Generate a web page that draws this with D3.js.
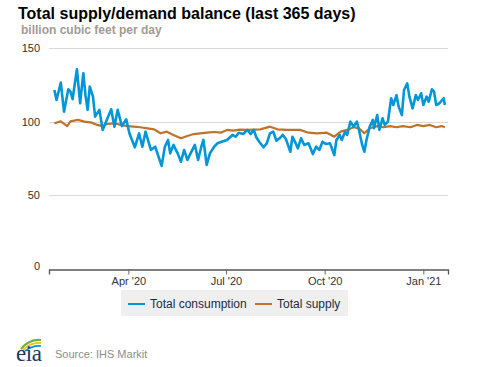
<!DOCTYPE html>
<meta charset="utf-8">
<style>
body {
    margin: 0;
    background: #fff;
    font-family: "Liberation Sans", Arial, Helvetica, sans-serif;
}
.grid line {
    stroke: #d9d9d9;
    shape-rendering: crispEdges;
}
.axis text {
    font-size: 11px;
    fill: #333;
}
</style>
<body>
<script src="https://cdn.jsdelivr.net/npm/d3@7"></script>
<script>

// daily balance, billion cubic feet per day
var consDates = ["2020-01-23","2020-01-25","2020-01-29","2020-02-01","2020-02-05","2020-02-07","2020-02-09","2020-02-13",
    "2020-02-16","2020-02-19","2020-02-21","2020-02-23","2020-02-25","2020-02-28","2020-03-01","2020-03-05","2020-03-08",
    "2020-03-16","2020-03-19","2020-03-22","2020-03-26","2020-03-30","2020-04-02","2020-04-07","2020-04-11","2020-04-14",
    "2020-04-17","2020-04-22","2020-04-26","2020-05-02","2020-05-05","2020-05-08","2020-05-10","2020-05-13","2020-05-17",
    "2020-05-20","2020-05-23","2020-05-26","2020-05-29","2020-06-02","2020-06-05","2020-06-08","2020-06-10","2020-06-13",
    "2020-06-16","2020-06-20","2020-06-23","2020-06-27","2020-07-02","2020-07-07","2020-07-10","2020-07-13","2020-07-17",
    "2020-07-21","2020-07-24","2020-07-27","2020-07-29","2020-08-01","2020-08-05","2020-08-08","2020-08-11","2020-08-14",
    "2020-08-17","2020-08-20","2020-08-23","2020-08-26","2020-08-30","2020-09-01","2020-09-04","2020-09-06","2020-09-09",
    "2020-09-12","2020-09-16","2020-09-20","2020-09-23","2020-09-26","2020-09-29","2020-10-02","2020-10-06","2020-10-10",
    "2020-10-12","2020-10-15","2020-10-17","2020-10-20","2020-10-22","2020-10-25","2020-10-28","2020-10-31","2020-11-02",
    "2020-11-05","2020-11-07","2020-11-09","2020-11-12","2020-11-15","2020-11-16","2020-11-19","2020-11-21","2020-11-24",
    "2020-11-26","2020-11-29","2020-12-02","2020-12-04","2020-12-07","2020-12-09","2020-12-12","2020-12-14","2020-12-17",
    "2020-12-19","2020-12-22","2020-12-25","2020-12-27","2020-12-30","2021-01-01","2021-01-04","2021-01-06","2021-01-09",
    "2021-01-11","2021-01-13","2021-01-16","2021-01-20","2021-01-21"];
var consumption = [121.5,114.7,126.5,106.8,122,120.4,115.2,135.6,
    112.5,132.9,118,108,123.8,117,103.4,108,94.4,
    108.4,96.6,108,97,101.6,92,82.6,92,83,
    93.2,80.8,83,70,83,87.6,78.5,84.2,78.5,
    72.8,80.8,74,78.5,84.2,74,83,87.6,70.6,
    78.5,83,85.3,86.4,87.6,91,89.8,92.5,91.6,
    94.4,91.6,94.4,89.8,86.4,82.6,85.3,92,93.2,
    87.1,88.7,91,88,79.6,89.8,85.3,81.9,88.7,
    84.2,85.3,78,83,80.8,86.4,84.9,85.3,77.4,
    87.6,91,87.6,93.2,91,100,96.6,100,94.4,
    84.2,79.6,87.6,96.6,101.2,95.5,104.5,94.4,102.3,
    97.8,100,115.9,111.3,118,110.2,104.5,121.5,126,
    117,109,118,114.7,119.3,111.3,117,113.6,122,
    120.4,111.3,112.5,115.9,111.3];

var supDates = ["2020-01-23","2020-01-29","2020-02-04","2020-02-07","2020-02-14","2020-02-20","2020-02-27","2020-03-03",
    "2020-03-08","2020-03-12","2020-03-19","2020-03-25","2020-03-31","2020-04-06","2020-04-12","2020-04-19","2020-04-25",
    "2020-05-01","2020-05-07","2020-05-13","2020-05-20","2020-05-26","2020-06-01","2020-06-07","2020-06-13","2020-06-20",
    "2020-06-26","2020-07-02","2020-07-08","2020-07-14","2020-07-21","2020-08-02","2020-08-11","2020-08-18","2020-08-27",
    "2020-09-08","2020-09-16","2020-09-24","2020-10-03","2020-10-10","2020-10-16","2020-10-22","2020-10-28","2020-11-02",
    "2020-11-07","2020-11-12","2020-11-19","2020-11-25","2020-12-01","2020-12-07","2020-12-13","2020-12-20","2020-12-26",
    "2021-01-01","2021-01-07","2021-01-13","2021-01-18","2021-01-21"];
var supply = [98.9,100.2,97,100.2,101.2,100,99.3,97.8,
    97,98.4,98.9,97.8,97,96.6,96.2,95.5,94.8,
    92.1,93.2,91,88.7,90.3,91.6,92.1,92.5,93,
    92.5,94.4,93.9,94.6,94.4,94.8,96.6,94.8,94.4,
    94.4,92.5,92.1,92.5,89.8,93.2,94.4,96.2,95.5,
    92.1,95.5,97,96.2,97,96.2,97,96.2,97.8,
    97,97.8,96.2,97,96.2];

var yTicks = [0, 50, 100, 150];
var xTicks = ["2020-04-01", "2020-07-01", "2020-10-01", "2021-01-01"];
var seriesNames = ["Total consumption", "Total supply"];
var colors = ["#0096d7", "#bd732a"];

var W = 477, H = 367;
var margin = {left: 49, right: 29, top: 48, bottom: 98};
var parse = d3.timeParse("%Y-%m-%d");

var svg = d3.select("body").append("svg")
    .attr("width", W)
    .attr("height", H);

var x = d3.scaleTime()
    .domain([parse("2020-01-18"), parse("2021-01-24")])
    .range([margin.left, W - margin.right]);

var y = d3.scaleLinear()
    .domain([0, 150])
    .range([H - margin.bottom, margin.top]);

// title
svg.append("text")
    .attr("x", 18)
    .attr("y", 19)
    .style("font-size", "16px")
    .style("font-weight", "bold")
    .style("fill", "#000")
    .text("Total supply/demand balance (last 365 days)");

svg.append("text")
    .attr("x", 21)
    .attr("y", 34)
    .style("font-size", "12px")
    .style("font-weight", "bold")
    .style("fill", "#a19b94")
    .text("billion cubic feet per day");

// gridlines
svg.append("g").attr("class", "grid")
  .selectAll("line")
    .data(yTicks.slice(1))
  .enter().append("line")
    .attr("x1", margin.left)
    .attr("x2", W - margin.right)
    .attr("y1", function(d) { return Math.round(y(d)) + 0.5; })
    .attr("y2", function(d) { return Math.round(y(d)) + 0.5; });

// y labels
svg.append("g").attr("class", "axis")
  .selectAll("text")
    .data(yTicks)
  .enter().append("text")
    .attr("x", 40)
    .attr("y", function(d) { return y(d); })
    .attr("dy", d => d === 0 ? "0.1em" : "0.35em")
    .attr("text-anchor", "end")
    .text(d => d);

// x axis
var xAxis = d3.axisBottom(x)
    .tickValues(xTicks.map(parse))
    .tickSize(5)
    .tickPadding(3)
    .tickFormat(d3.timeFormat("%b '%y"));

var gx = svg.append("g")
    .attr("class", "axis")
    .attr("transform", "translate(0," + (Math.round(y(0)) + 0.5) + ")")
    .call(xAxis);
gx.select(".domain").attr("stroke", "#555").attr("stroke-width", 1.3);
gx.selectAll(".tick line").attr("stroke", "#666");
gx.selectAll(".tick text").style("font-size", "11px").attr("fill", "#333");

// lines
var line = d3.line()
    .x(function(d) { return x(d.date); })
    .y(function(d) { return y(d.value); });

var consData = consDates.map(function(d, i) { return {date: parse(d), value: consumption[i]}; });
var supData = supDates.map(function(d, i) { return {date: parse(d), value: supply[i]}; });

svg.append("path")
    .datum(supData)
    .attr("fill", "none")
    .attr("stroke", colors[1])
    .attr("stroke-width", 2.2)
    .attr("stroke-linejoin", "round")
    .attr("d", line);

svg.append("path")
    .datum(consData)
    .attr("fill", "none")
    .attr("stroke", colors[0])
    .attr("stroke-width", 2.6)
    .attr("stroke-linejoin", "round")
    .attr("d", line);

// legend
var legend = svg.append("g");
legend.append("rect")
    .attr("x", 121)
    .attr("y", 290)
    .attr("width", 227)
    .attr("height", 26)
    .attr("fill", "#efefef");

var legX = [128, 255];
var item = legend.selectAll("g.item")
    .data(seriesNames)
  .enter().append("g")
    .attr("class", "item")
    .attr("transform", function(d, i) { return "translate(" + legX[i] + ",304)"; });

item.append("line")
    .attr("x1", 0).attr("x2", 17)
    .attr("stroke", function(d, i) { return colors[i]; })
    .attr("stroke-width", 2);

item.append("text")
    .attr("x", 22)
    .attr("dy", "0.35em")
    .style("font-size", "12px")
    .style("fill", "#1e2b45")
    .text(d => d);

// footer: eia logo + source
var logo = svg.append("g").attr("transform", "translate(16,339)");
logo.append("path")
    .attr("d", "M5,10 Q13,0 25,1")
    .attr("fill", "none").attr("stroke", "#6cb33f").attr("stroke-width", 2.2);
logo.append("path")
    .attr("d", "M7,11 Q15,3 25,4")
    .attr("fill", "none").attr("stroke", "#f2c400").attr("stroke-width", 1.8);
logo.append("path")
    .attr("d", "M9,12 Q17,6 25,7")
    .attr("fill", "none").attr("stroke", "#0096d7").attr("stroke-width", 1.6);
logo.append("text")
    .attr("x", 0)
    .attr("y", 22)
    .attr("textLength", 26)
    .style("font-family", "'Liberation Serif', 'DejaVu Serif', serif")
    .style("font-size", "23px")
    .style("fill", "#1e3660")
    .text("eia");

svg.append("text")
    .attr("x", 55)
    .attr("y", 358)
    .style("font-size", "11px")
    .style("fill", "#8c8c8c")
    .text("Source: IHS Markit");

</script>
</body>
